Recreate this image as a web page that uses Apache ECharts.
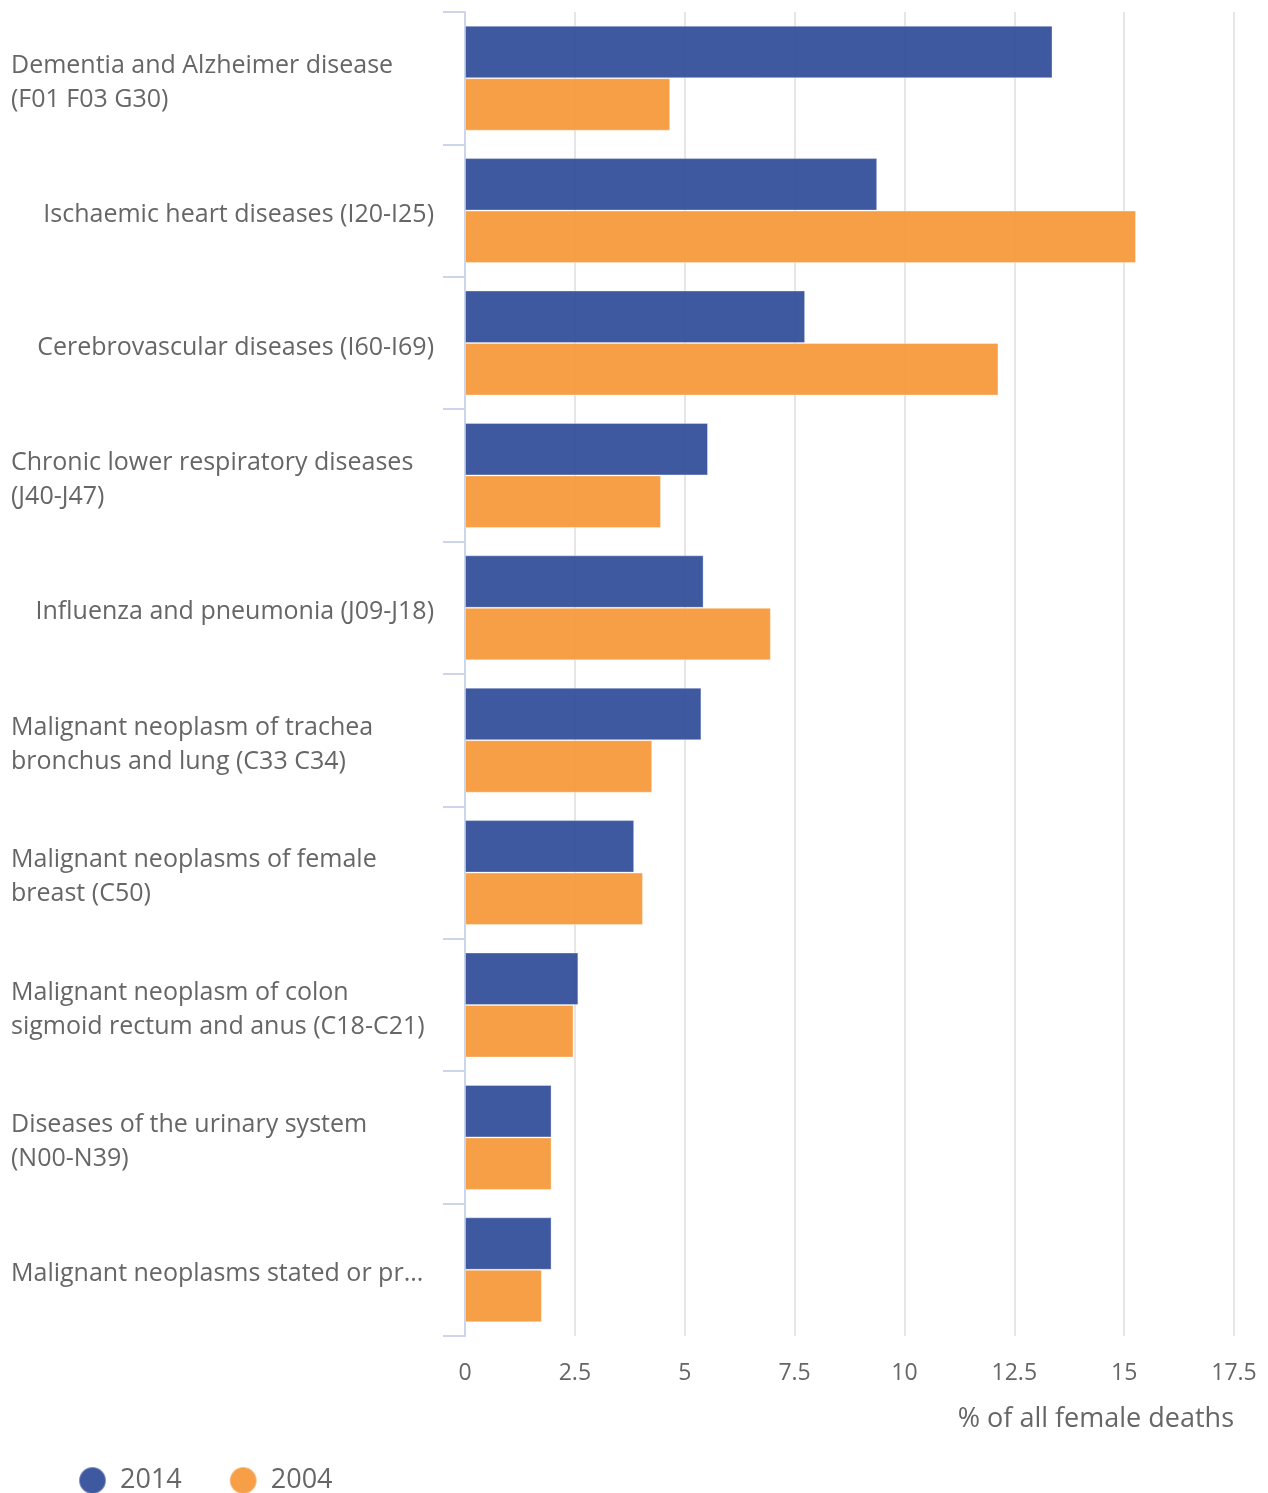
<!DOCTYPE html>
<html>
<head>
<meta charset="utf-8">
<script src="https://cdn.jsdelivr.net/npm/echarts@6/dist/echarts.min.js"></script>
<style>
html,body{margin:0;padding:0;background:#fff;}
#chart{width:1268px;height:1493px;}
</style>
</head>
<body>
<div id="chart"></div>
<script>
const categories = [
  "Dementia and Alzheimer disease\n(F01 F03 G30)",
  "Ischaemic heart diseases (I20-I25)",
  "Cerebrovascular diseases (I60-I69)",
  "Chronic lower respiratory diseases\n(J40-J47)",
  "Influenza and pneumonia (J09-J18)",
  "Malignant neoplasm of trachea\nbronchus and lung (C33 C34)",
  "Malignant neoplasms of female\nbreast (C50)",
  "Malignant neoplasm of colon\nsigmoid rectum and anus (C18-C21)",
  "Diseases of the urinary system\n(N00-N39)",
  "Malignant neoplasms stated or pr..."
];
const values2014 = [13.37, 9.38, 7.74, 5.53, 5.43, 5.38, 3.85, 2.58, 1.97, 1.97];
const values2004 = [4.67, 15.27, 12.14, 4.46, 6.96, 4.26, 4.05, 2.47, 1.97, 1.75];
const seriesNames = ["2014", "2004"];
const xTicks = [0, 2.5, 5, 7.5, 10, 12.5, 15, 17.5];
const xAxisTitle = "% of all female deaths";

const FONT = "'Open Sans', sans-serif";
const chart = echarts.init(document.getElementById('chart'));

function labelFmt(v) {
  const leftBlock = v.indexOf('\n') >= 0 || v.indexOf('...') >= 0;
  const lines = v.split('\n');
  const style = leftBlock ? 'l' : 'r';
  return lines.map(function (s) { return '{' + style + '|' + s + '}'; }).join('\n');
}

chart.setOption({
  animation: false,
  backgroundColor: '#ffffff',
  textStyle: { fontFamily: FONT },
  grid: { left: 465, right: 34, top: 12, bottom: 157, containLabel: false },
  xAxis: {
    type: 'value',
    min: xTicks[0],
    max: xTicks[xTicks.length - 1],
    interval: 2.5,
    axisLine: { show: false },
    axisTick: { show: false },
    axisLabel: {
      fontSize: 23, color: '#666666', fontFamily: FONT, margin: 26,
      formatter: function (v) { return String(v); }
    },
    splitLine: { show: true, lineStyle: { color: '#e6e6e6', width: 2 } }
  },
  yAxis: {
    type: 'category',
    inverse: true,
    data: categories,
    boundaryGap: true,
    axisLine: { show: true, lineStyle: { color: '#ccd6eb', width: 2 } },
    axisTick: { show: true, length: 22, lineStyle: { color: '#ccd6eb', width: 2 } },
    splitLine: { show: false },
    axisLabel: {
      margin: 31,
      fontFamily: FONT,
      padding: [9, 0, 0, 0],
      formatter: labelFmt,
      rich: {
        l: { width: 423, align: 'left', fontSize: 25, lineHeight: 34, color: '#666666', fontFamily: FONT },
        r: { align: 'right', fontSize: 25, lineHeight: 34, color: '#666666', fontFamily: FONT }
      }
    }
  },
  legend: {
    left: 78, top: 1466,
    padding: 0,
    icon: 'circle',
    itemWidth: 27, itemHeight: 27,
    itemGap: 47,
    textStyle: { fontSize: 27, color: '#666666', fontFamily: FONT, padding: [0, 0, 0, 9] },
    data: seriesNames
  },
  graphic: [{
    type: 'text',
    right: 34, top: 1406,
    style: { text: xAxisTitle, fontSize: 27, fill: '#666666', fontFamily: FONT }
  }],
  series: [
    {
      name: seriesNames[0], type: 'bar', data: values2014,
      barWidth: 52.5, barGap: '0%',
      itemStyle: { color: '#34509b', opacity: 0.95, borderColor: 'rgba(255,255,255,0.35)', borderWidth: 1 }
    },
    {
      name: seriesNames[1], type: 'bar', data: values2004,
      barWidth: 52.5, barGap: '0%',
      itemStyle: { color: '#f59a3c', opacity: 0.95, borderColor: 'rgba(255,255,255,0.35)', borderWidth: 1 }
    }
  ]
});
</script>
</body>
</html>
